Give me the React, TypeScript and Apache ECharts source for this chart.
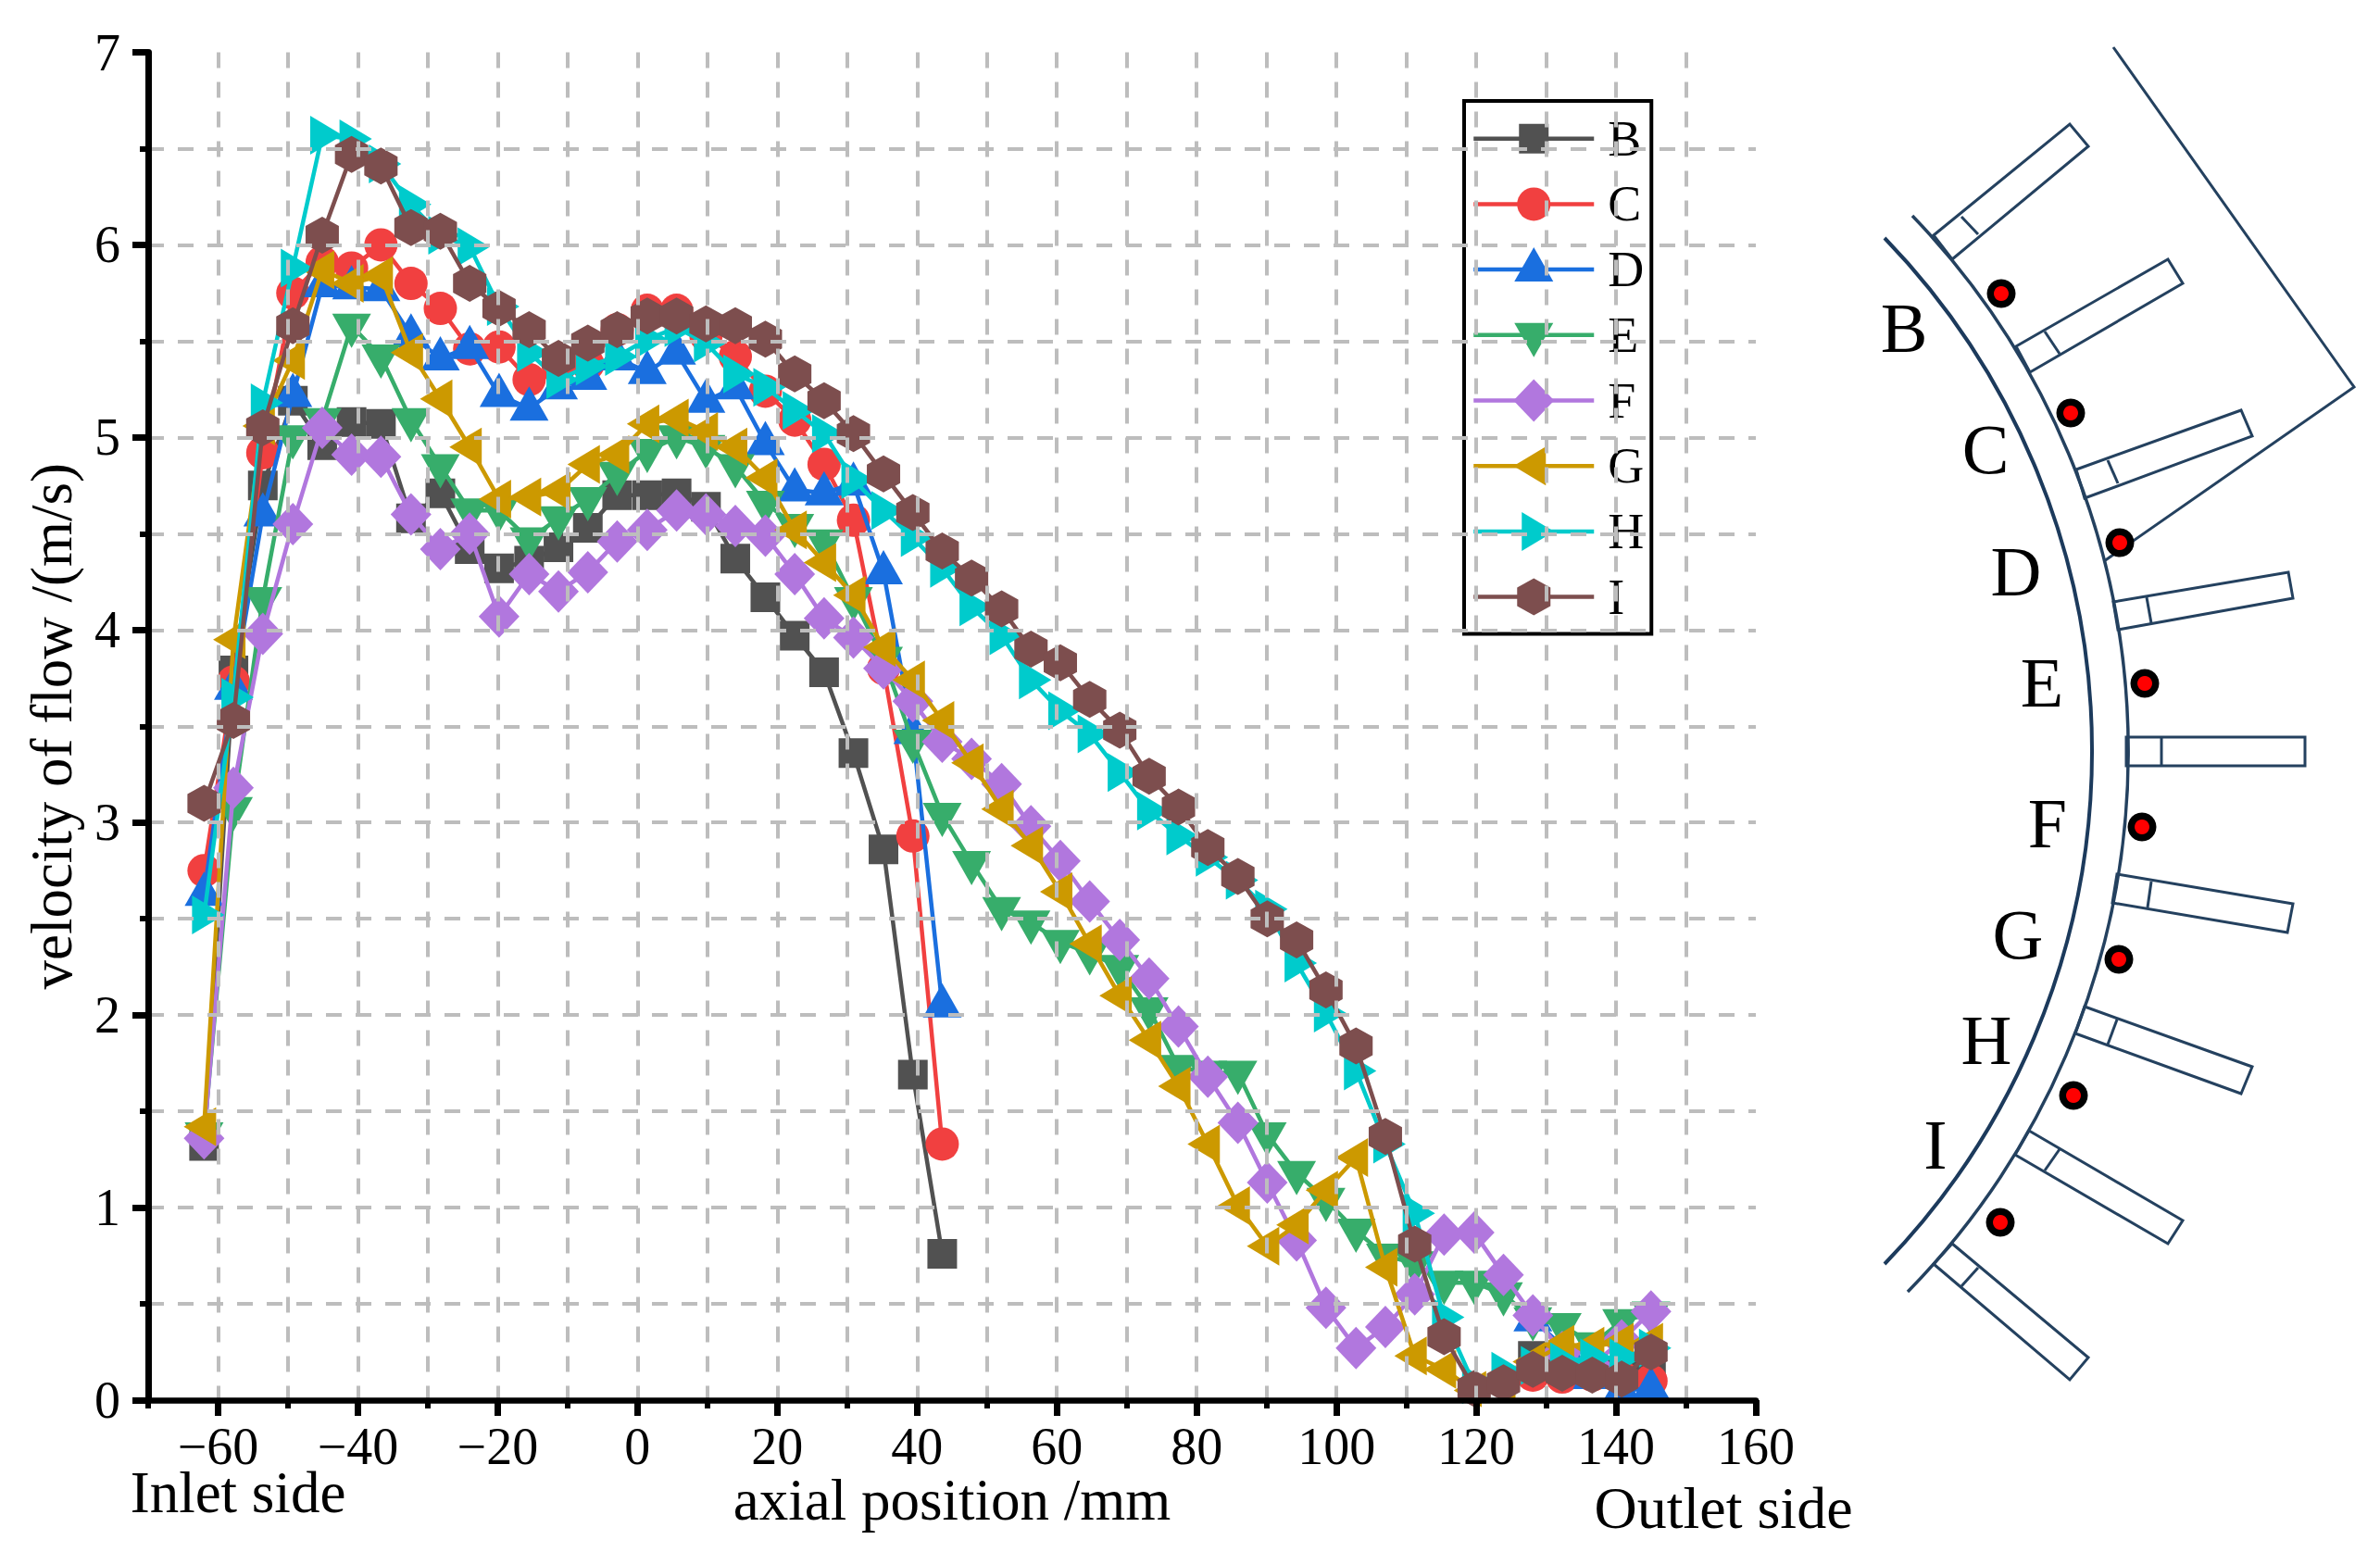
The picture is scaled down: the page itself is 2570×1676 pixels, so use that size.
import { useEffect, useRef } from "react";
import * as echarts from "echarts";

const FONT = "Liberation Serif";

const positions = [-62, -57.8, -53.6, -49.3, -45.1, -40.9, -36.7, -32.4, -28.2, -24, -19.8, -15.5, -11.3, -7.1, -2.9, 1.4, 5.6, 9.8, 14, 18.3, 22.5, 26.7, 30.9, 35.2, 39.4, 43.6, 47.8, 52.1, 56.3, 60.5, 64.7, 69, 73.2, 77.4, 81.6, 85.9, 90.1, 94.3, 98.5, 102.8, 107, 111.2, 115.4, 119.7, 123.9, 128.1, 132.3, 136.6, 140.8, 145];

const seriesB = [1.32, 3.79, 4.75, 5.19, 4.96, 5.08, 5.07, 4.58, 4.71, 4.42, 4.32, 4.36, 4.43, 4.53, 4.7, 4.7, 4.71, 4.64, 4.37, 4.17, 3.97, 3.78, 3.36, 2.86, 1.69, 0.76,
  null, null, null, null, null, null, null, null, null, null, null, null, null, null, null, null, null, null, null,
  0.23, 0.18, 0.15, 0.14, 0.17];
const seriesC = [2.75, 3.73, 4.92, 5.75, 5.91, 5.88, 6, 5.8, 5.67, 5.46, 5.47, 5.3, 5.36, 5.38, 5.56, 5.66, 5.66, 5.53, 5.42, 5.24, 5.09, 4.86, 4.57, 3.8, 2.93, 1.33,
  null, null, null, null, null, null, null, null, null, null, null, null, null, null, null, null, null, null, null,
  0.13, 0.12, 0.13, 0.12, 0.1];
const seriesD = [2.63, 3.7, 4.6, 5.22, 5.79, 5.78, 5.77, 5.53, 5.41, 5.47, 5.22, 5.15, 5.26, 5.31, 5.41, 5.34, 5.44, 5.19, 5.26, 4.97, 4.73, 4.71, 4.76, 4.3, 3.47, 2.05,
  null, null, null, null, null, null, null, null, null, null, null, null, null, null, null, null, null, null, null,
  0.42, 0.28, 0.12, 0.05, 0.06];
const seriesE = [1.38, 3.07, 4.16, 5, 5.09, 5.58, 5.42, 5.09, 4.85, 4.62, 4.62, 4.47, 4.58, 4.68, 4.81, 4.93, 5, 4.95, 4.85, 4.66, 4.54, 4.46, 4.16, 3.85, 3.42, 3.04, 2.79, 2.55, 2.48, 2.38, 2.32, 2.25, 2.03, 1.73, 1.7, 1.7, 1.38, 1.18, 1.04, 0.88, 0.75, 0.71, 0.61, 0.61, 0.55, 0.42, 0.39, 0.29, 0.41, 0.45];
const seriesF = [1.36, 3.18, 3.98, 4.55, 5.05, 4.91, 4.9, 4.6, 4.42, 4.5, 4.07, 4.29, 4.2, 4.3, 4.46, 4.52, 4.62, 4.6, 4.54, 4.49, 4.29, 4.06, 3.96, 3.8, 3.63, 3.42, 3.33, 3.2, 2.98, 2.8, 2.59, 2.39, 2.19, 1.94, 1.68, 1.44, 1.13, 0.83, 0.48, 0.27, 0.38, 0.55, 0.86, 0.87, 0.65, 0.44, 0.25, 0.18, 0.31, 0.46];
const seriesG = [1.42, 3.95, 5.06, 5.4, 5.87, 5.8, 5.84, 5.44, 5.2, 4.95, 4.68, 4.69, 4.72, 4.86, 4.91, 5.07, 5.1, 5.03, 4.95, 4.79, 4.52, 4.35, 4.18, 3.91, 3.74, 3.53, 3.31, 3.07, 2.88, 2.64, 2.37, 2.1, 1.87, 1.63, 1.33, 1.01, 0.8, 0.91, 1.09, 1.26, 0.69, 0.23, 0.16, 0.05, 0.08, 0.2, 0.29, 0.28, 0.3, 0.3];
const seriesH = [2.52, 3.65, 5.18, 5.88, 6.57, 6.55, 6.42, 6.21, 6.05, 5.99, 5.68, 5.44, 5.3, 5.37, 5.42, 5.51, 5.57, 5.49, 5.33, 5.26, 5.14, 5.02, 4.78, 4.62, 4.48, 4.32, 4.12, 3.97, 3.74, 3.58, 3.46, 3.26, 3.06, 2.93, 2.82, 2.7, 2.55, 2.27, 2.01, 1.71, 1.33, 0.97, 0.43, 0.08, 0.15, 0.18, 0.2, 0.22, 0.22, 0.27];
const seriesI = [3.1, 3.53, 5.05, 5.58, 6.05, 6.47, 6.41, 6.09, 6.07, 5.8, 5.67, 5.56, 5.41, 5.49, 5.56, 5.63, 5.63, 5.59, 5.58, 5.51, 5.33, 5.19, 5.02, 4.81, 4.61, 4.41, 4.27, 4.11, 3.9, 3.83, 3.64, 3.48, 3.24, 3.08, 2.87, 2.72, 2.5, 2.39, 2.13, 1.84, 1.37, 0.81, 0.33, 0.06, 0.09, 0.16, 0.14, 0.13, 0.11, 0.25];

const majorXTicks = [-60, -40, -20, 0, 20, 40, 60, 80, 100, 120, 140, 160];

// every marker shape sits in the same 48x48 box, the two leading moves fix that box
const BOX = "path://M-24 -24 M24 24 ";
const names = ["B", "C", "D", "E", "F", "G", "H", "I"];
const values = [seriesB, seriesC, seriesD, seriesE, seriesF, seriesG, seriesH, seriesI];
const colors = ["#515151", "#F14040", "#1A6FDF", "#37AD6B", "#B177DE", "#CC9900", "#00CBCC", "#7D4E4E"];
const markers = [
  BOX + "M-16 -16 L16 -16 L16 16 L-16 16 Z",
  BOX + "M-18 0 A18 18 0 1 1 18 0 A18 18 0 1 1 -18 0 Z",
  BOX + "M0 -24 L21 13 L-21 13 Z",
  BOX + "M0 24 L21 -13 L-21 -13 Z",
  BOX + "M0 -23 L22 0 L0 23 L-22 0 Z",
  BOX + "M-22 0 L13 -21 L13 21 Z",
  BOX + "M22 0 L-13 -21 L-13 21 Z",
  BOX + "M0 -20 L18 -10 L18 10 L0 20 L-18 10 L-18 -10 Z",
];

// the casing sketch on the right: radial ribs as outline + cross line
echarts.graphic.registerShape("casingInner", echarts.graphic.extendPath("M2035 257 A797 797 0 0 1 2035 1365", {}));
echarts.graphic.registerShape("casingOuter", echarts.graphic.extendPath("M2065 233 A834 834 0 0 1 2060 1395", {}));
const ribs = [
  { outline: [[2088, 254], [2235, 134], [2255, 158], [2108, 280]], cross: [[2118, 234], [2136, 253]] },
  { outline: [[2177, 374], [2341, 280], [2357, 306], [2192, 402]], cross: [[2208, 358], [2224, 382]] },
  { outline: [[2242, 507], [2420, 443], [2432, 471], [2251, 538]], cross: [[2276, 497], [2287, 522]] },
  { outline: [[2282, 650], [2471, 618], [2476, 646], [2287, 680]], cross: [[2318, 645], [2323, 673]] },
  { outline: [[2296, 796], [2489, 796], [2489, 827], [2296, 827]], cross: [[2334, 796], [2334, 827]] },
  { outline: [[2286, 944], [2476, 976], [2470, 1007], [2281, 975]], cross: [[2323, 952], [2319, 980]] },
  { outline: [[2251, 1087], [2432, 1152], [2420, 1181], [2241, 1116]], cross: [[2286, 1101], [2276, 1128]] },
  { outline: [[2191, 1221], [2357, 1318], [2341, 1343], [2176, 1247]], cross: [[2224, 1241], [2208, 1264]] },
  { outline: [[2108, 1343], [2255, 1466], [2235, 1490], [2088, 1365]], cross: [[2136, 1369], [2118, 1389]] },
];
const wedge = [[2282, 51], [2542, 418], [2272, 606]];
const dots = [[2161, 317], [2236, 446], [2289, 586], [2316, 738], [2313, 893], [2288, 1036], [2239, 1183], [2160, 1320]];
const dotLabels = [
  { text: "B", x: 2056, y: 354 },
  { text: "C", x: 2144, y: 485 },
  { text: "D", x: 2177, y: 617 },
  { text: "E", x: 2205, y: 737 },
  { text: "F", x: 2211, y: 889 },
  { text: "G", x: 2179, y: 1009 },
  { text: "H", x: 2145, y: 1123 },
  { text: "I", x: 2090, y: 1236 },
];

const LINE = "#24415f";
const gridLine = { show: true, lineStyle: { color: "#bdbdbd", width: 4, type: [17, 15] as number[] } };

function sketch() {
  const els: any[] = [
    { type: "casingInner", style: { stroke: "#1c3a5c", lineWidth: 4, fill: "none" } },
    { type: "casingOuter", style: { stroke: LINE, lineWidth: 3.5, fill: "none" } },
    { type: "polyline", shape: { points: wedge }, style: { stroke: LINE, lineWidth: 3, fill: "none" } },
  ];
  ribs.forEach((r) => {
    els.push({ type: "polygon", shape: { points: r.outline }, style: { stroke: LINE, lineWidth: 3, fill: "none" } });
    els.push({ type: "polyline", shape: { points: r.cross }, style: { stroke: LINE, lineWidth: 3, fill: "none" } });
  });
  dots.forEach(([x, y]) => {
    els.push({ type: "circle", shape: { cx: x, cy: y, r: 15.5 }, style: { fill: "#000" } });
    els.push({ type: "circle", shape: { cx: x, cy: y, r: 8 }, style: { fill: "#f00" } });
  });
  dotLabels.forEach((l) => {
    els.push({ type: "text", x: l.x, y: l.y, style: { text: l.text, font: `76px "${FONT}"`, fill: "#000", textAlign: "center", textVerticalAlign: "middle" } });
  });
  els.push({ type: "text", x: 257, y: 1612, style: { text: "Inlet side", font: `63px "${FONT}"`, fill: "#000", textAlign: "center", textVerticalAlign: "middle" } });
  els.push({ type: "text", x: 1861, y: 1628, style: { text: "Outlet side", font: `64px "${FONT}"`, fill: "#000", textAlign: "center", textVerticalAlign: "middle" } });
  // markers near zero stop at the axis line
  els.push({ type: "rect", z: 25, shape: { x: 1600, y: 1514, width: 290, height: 22 }, style: { fill: "#fff" } });
  return els;
}

export default function App() {
  const chartRef = useRef<HTMLDivElement>(null);
  useEffect(() => {
    const chart = echarts.init(chartRef.current, null, { renderer: "svg" });
    const option = {
      animation: false,
      backgroundColor: "#fff",
      grid: { left: 160, top: 56.5, width: 1736, height: 1455.5, outerBoundsMode: "none" },
      legend: {
        z: 20,
        orient: "vertical",
        left: 1581,
        top: 109,
        padding: [13.7, 8, 13, 8],
        itemWidth: 130,
        itemHeight: 60,
        itemGap: 16.7,
        borderColor: "#000",
        borderWidth: 4,
        selectedMode: false,
        lineStyle: { width: 4.5 },
        textStyle: { fontFamily: FONT, fontSize: 54, color: "#000", padding: [0, 0, 0, 10] },
        data: names,
      },
      xAxis: [
        {
          type: "value",
          z: 30,
          min: -70,
          max: 160,
          interval: 10,
          name: "axial position /mm",
          nameLocation: "middle",
          nameGap: 76,
          nameMoveOverlap: false,
          nameTextStyle: { fontFamily: FONT, fontSize: 63, color: "#000" },
          axisLine: { onZero: false, lineStyle: { color: "#000", width: 6.5 } },
          axisTick: { length: 9, lineStyle: { color: "#000", width: 6 } },
          axisLabel: {
            fontFamily: FONT,
            fontSize: 56,
            color: "#000",
            margin: 22,
            formatter: (v: number) => (majorXTicks.includes(v) ? String(v).replace("-", "\u2212") : ""),
          },
          splitLine: { ...gridLine, showMinLine: false, showMaxLine: false },
        },
        {
          type: "value",
          z: 30,
          position: "bottom",
          min: -70,
          max: 160,
          axisLine: { show: false, onZero: false },
          axisTick: { length: 17, customValues: majorXTicks, lineStyle: { color: "#000", width: 7 } },
          axisLabel: { show: false },
          splitLine: { show: false },
        },
      ],
      yAxis: {
        type: "value",
        z: 30,
        min: 0,
        max: 7,
        interval: 1,
        name: "velocity of flow /(m/s)",
        nameLocation: "middle",
        nameGap: 73,
        nameTextStyle: { fontFamily: FONT, fontSize: 63, color: "#000" },
        axisLine: { show: true, onZero: false, lineStyle: { color: "#000", width: 7 } },
        axisTick: { show: true, length: 17, lineStyle: { color: "#000", width: 7 } },
        minorTick: { show: true, splitNumber: 2, length: 9, lineStyle: { color: "#000", width: 6 } },
        axisLabel: { fontFamily: FONT, fontSize: 56, color: "#000", margin: 30 },
        splitLine: { ...gridLine, showMinLine: false, showMaxLine: false },
        minorSplitLine: gridLine,
      },
      series: names.map((name, i) => ({
        name,
        type: "line",
        z: 3 + i,
        clip: false,
        xAxisIndex: 0,
        symbol: markers[i],
        symbolSize: 48,
        showAllSymbol: true,
        lineStyle: { color: colors[i], width: 4.5 },
        itemStyle: { color: colors[i] },
        data: positions.map((x, k) => [x, values[i][k]]),
      })),
      graphic: { elements: sketch() },
    };
    chart.setOption(option);
    return () => {
      chart.dispose();
    };
  }, []);

  return <div ref={chartRef} style={{ position: "absolute", left: 0, top: 0, width: 2570, height: 1676 }}></div>;
}
